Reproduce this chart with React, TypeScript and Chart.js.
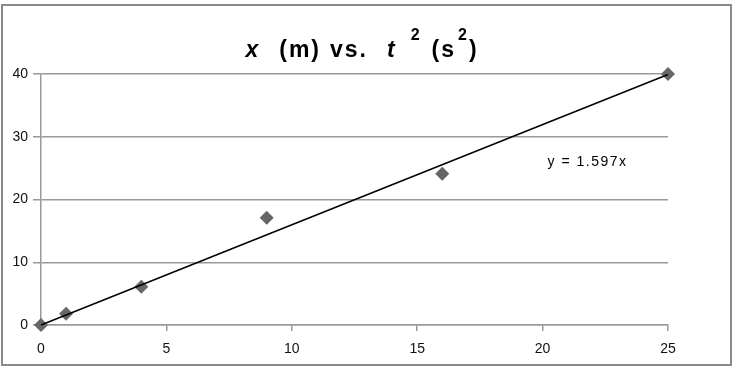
import React, { useEffect, useRef } from "react";
import { Chart, registerables } from "chart.js";

Chart.register(...registerables);

const tSquared = [0, 1, 4, 9, 16, 25];
const distance = [0, 1.8, 6.1, 17.1, 24.1, 40];
const trendSlope = 1.597;
const trendLabel = "y = 1.597x";
const xRange = [0, 25];
const yRange = [0, 40];
const xStep = 5;
const yStep = 10;

const FONT = "'Liberation Sans', Arial, sans-serif";

// [text, font, baseline offset, gap before]
const titleParts: [string, string, number, number][] = [
  ["x", "italic bold 23px " + FONT, 0, 0],
  ["(m)", "bold 23px " + FONT, 0, 19],
  ["vs.", "bold 23px " + FONT, 0, 9],
  ["t", "italic bold 23px " + FONT, 0, 19],
  ["2", "bold 16px " + FONT, -17, 14],
  ["(s", "bold 23px " + FONT, 0, 10],
  ["2", "bold 16px " + FONT, -17, 2],
  [")", "bold 23px " + FONT, 0, 0],
];

const framePlugin = {
  id: "frame",
  afterDraw(chart: any) {
    const ctx = chart.ctx;
    ctx.save();
    ctx.strokeStyle = "#8a8a8a";
    ctx.lineWidth = 2;
    ctx.strokeRect(2, 5, 729, 360);

    (ctx as any).letterSpacing = "2px";
    let total = 0;
    for (const [t, f, , g] of titleParts) {
      ctx.font = f;
      total += g + ctx.measureText(t).width;
    }
    let x = 362 - total / 2;
    const base = 57;
    ctx.fillStyle = "#000";
    ctx.textBaseline = "alphabetic";
    ctx.textAlign = "left";
    for (const [t, f, dy, g] of titleParts) {
      ctx.font = f;
      x += g;
      ctx.fillText(t, x, base + dy);
      x += ctx.measureText(t).width;
    }

    (ctx as any).letterSpacing = "1.5px";
    ctx.font = "14px " + FONT;
    const xs = chart.scales.x;
    const ys = chart.scales.y;
    ctx.textBaseline = "middle";
    ctx.fillText(trendLabel, xs.getPixelForValue(20.2), ys.getPixelForValue(26));
    ctx.restore();
  },
};

export default function App() {
  const ref = useRef<HTMLCanvasElement>(null);
  useEffect(() => {
    document.body.style.margin = "0";
    const chart = new Chart(ref.current!, {
      type: "scatter",
      data: {
        datasets: [
          {
            label: "data",
            data: tSquared.map((t, i) => ({ x: t, y: distance[i] })),
            pointStyle: "rectRot",
            pointRadius: 7,
            backgroundColor: "#666666",
            borderColor: "#666666",
            borderWidth: 0,
            clip: false,
            order: 2,
          } as any,
          {
            label: "trend",
            type: "line",
            data: [
              { x: xRange[0], y: trendSlope * xRange[0] },
              { x: xRange[1], y: trendSlope * xRange[1] },
            ],
            borderColor: "#000",
            borderWidth: 1.5,
            pointRadius: 0,
            clip: false,
            order: 1,
          } as any,
        ],
      },
      options: {
        animation: false,
        responsive: false,
        maintainAspectRatio: false,
        layout: { padding: { left: 0, right: 66, top: 74, bottom: 0 } },
        plugins: { legend: { display: false }, tooltip: { enabled: false }, title: { display: false } },
        scales: {
          x: {
            type: "linear",
            min: xRange[0],
            max: xRange[1],
            afterFit(s: any) {
              s.height = 43;
            },
            ticks: { stepSize: xStep, color: "#111", font: { family: FONT, size: 14 }, padding: 10 },
            grid: { drawOnChartArea: false, drawTicks: true, tickLength: 6, color: "#999", lineWidth: 1.5 },
            border: { color: "#999", width: 1.5 },
          },
          y: {
            type: "linear",
            min: yRange[0],
            max: yRange[1],
            afterFit(s: any) {
              s.width = 41;
            },
            ticks: { stepSize: yStep, color: "#111", font: { family: FONT, size: 14 }, padding: 5 },
            grid: { color: "#999", lineWidth: 1.5, tickLength: 8 },
            border: { color: "#999", width: 1.5 },
          },
        },
      },
      plugins: [framePlugin],
    });
    return () => chart.destroy();
  }, []);
  return (
    <div style={{ position: "absolute", left: 0, top: 0, width: 734, height: 368, background: "#fff" }}>
      <canvas ref={ref} width={734} height={368} style={{ width: 734, height: 368 }} />
    </div>
  );
}
